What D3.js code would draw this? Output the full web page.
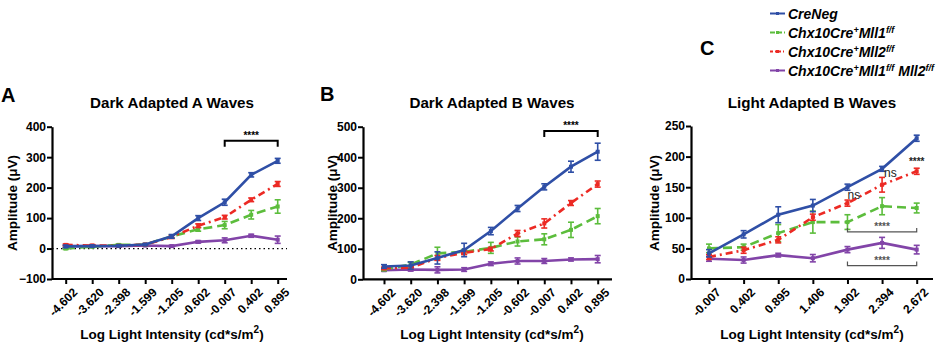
<!DOCTYPE html>
<html>
<head>
<meta charset="utf-8">
<script src="https://cdn.jsdelivr.net/npm/d3@7"></script>
<style>
  body { margin: 0; background: #fff; }
  svg text { font-family: "Liberation Sans", Arial, sans-serif; }
</style>
</head>
<body>
<div id="wrapper"></div>
<script>
// x categories (log light intensity)
const darkLabels = ["-4.602", "-3.620", "-2.398", "-1.599", "-1.205", "-0.602", "-0.007", "0.402", "0.895"];
const lightLabels = ["-0.007", "0.402", "0.895", "1.406", "1.902", "2.394", "2.672"];

// A: dark adapted a waves
const aCreNeg = [7, 8, 9, 13, 40, 100, 152, 242, 288];
const aCreNegErr = [4, 3, 3, 3, 6, 8, 10, 7, 8];
const aMll1 = [0, 6, 12, 13, 40, 63, 77, 111, 138];
const aMll1Err = [3, 3, 3, 3, 5, 6, 12, 14, 22];
const aMll2 = [12, 10, 9, 13, 38, 75, 103, 160, 212];
const aMll2Err = [3, 3, 3, 3, 5, 6, 6, 6, 8];
const aDko = [8, 8, 8, 10, 8, 22, 27, 42, 29];
const aDkoErr = [3, 3, 3, 3, 3, 4, 8, 5, 12];

// B: dark adapted b waves
const bCreNeg = [42, 45, 70, 96, 158, 232, 303, 369, 418];
const bCreNegErr = [6, 12, 20, 22, 12, 10, 10, 18, 28];
const bMll1 = [33, 48, 85, 90, 103, 124, 131, 162, 207];
const bMll1Err = [5, 8, 20, 8, 18, 15, 18, 25, 25];
const bMll2 = [36, 38, 70, 87, 99, 150, 183, 250, 312];
const bMll2Err = [4, 5, 8, 6, 6, 10, 15, 8, 10];
const bDko = [30, 32, 31, 32, 51, 60, 60, 65, 66];
const bDkoErr = [4, 5, 10, 6, 6, 10, 8, 5, 12];

// C: light adapted b waves
const cCreNeg = [42, 73, 105, 120, 150, 180, 230];
const cCreNegErr = [6, 6, 13, 10, 5, 4, 5];
const cMll1 = [50, 52, 75, 93, 93, 119, 116];
const cMll1Err = [7, 5, 14, 18, 12, 14, 8];
const cMll2 = [36, 47, 64, 101, 124, 154, 176];
const cMll2Err = [4, 5, 5, 5, 5, 12, 5];
const cDko = [33, 31, 39, 34, 48, 59, 48];
const cDkoErr = [4, 5, 3, 6, 5, 9, 7];

const colors = {creneg: "#2f4fa6", mll1: "#5cbd3c", mll2: "#ec2a24", dko: "#8244a8"};
const dashes = {creneg: null, mll1: "9,5", mll2: "7,4,2,4", dko: null};

const svg = d3.select("#wrapper").append("svg")
    .attr("width", 941)
    .attr("height", 347);

function drawPanel(p) {
    const g = svg.append("g");
    const x = d3.scalePoint().domain(p.labels).range([p.px0, p.px1]);
    const y = d3.scaleLinear().domain(p.yDomain).range([p.yBottom, p.yTop]);

    // zero dotted line
    if (p.zeroLine) {
        g.append("line")
            .attr("x1", p.x0).attr("x2", p.x1)
            .attr("y1", y(0)).attr("y2", y(0))
            .attr("stroke", "#000").attr("stroke-width", 1.3)
            .attr("stroke-dasharray", "1.5,3");
    }

    // series
    p.series.forEach(s => {
        const pts = s.values.map((v, i) => ({label: p.labels[i], v: v, e: s.err[i]}));
        const line = d3.line().x(d => x(d.label)).y(d => y(d.v));
        g.append("path")
            .attr("d", line(pts))
            .attr("fill", "none")
            .attr("stroke", colors[s.key])
            .attr("stroke-width", 2.6)
            .attr("stroke-dasharray", dashes[s.key]);
        const eb = g.append("g").attr("stroke", colors[s.key]).attr("stroke-width", 1.6);
        pts.forEach(d => {
            const cx = x(d.label);
            eb.append("line").attr("x1", cx).attr("x2", cx).attr("y1", y(d.v - d.e)).attr("y2", y(d.v + d.e));
            eb.append("line").attr("x1", cx - 3).attr("x2", cx + 3).attr("y1", y(d.v - d.e)).attr("y2", y(d.v - d.e));
            eb.append("line").attr("x1", cx - 3).attr("x2", cx + 3).attr("y1", y(d.v + d.e)).attr("y2", y(d.v + d.e));
        });
        g.append("g").selectAll("rect").data(pts).join("rect")
            .attr("x", d => x(d.label) - 2).attr("y", d => y(d.v) - 2)
            .attr("width", 4).attr("height", 4)
            .attr("fill", colors[s.key]);
    });

    // y axis
    const yAx = g.append("g")
        .attr("transform", `translate(${p.x0},0)`)
        .call(d3.axisLeft(y).tickValues(p.yTicks).tickSize(5).tickSizeOuter(0));
    yAx.select(".domain").attr("stroke-width", 2.2);
    yAx.selectAll(".tick line").attr("stroke-width", 2);
    yAx.selectAll("text").attr("font-size", 12).attr("font-weight", "bold")
        .attr("font-family", "Liberation Sans, Arial, sans-serif").attr("fill", "#000").attr("x", -6);

    // x axis
    const xAx = g.append("g")
        .attr("transform", `translate(0,${p.yBottom})`)
        .call(d3.axisBottom(x).tickSize(5).tickSizeOuter(0));
    xAx.select(".domain").attr("d", `M${p.x0},0H${p.x1}`).attr("stroke-width", 2.2);
    xAx.selectAll(".tick line").attr("stroke-width", 2);
    xAx.selectAll("text")
        .attr("font-size", 12).attr("font-weight", "bold")
        .attr("font-family", "Liberation Sans, Arial, sans-serif").attr("fill", "#000")
        .attr("text-anchor", "end")
        .attr("transform", "translate(6,8) rotate(-45)")
        .attr("dy", "0.7em").attr("y", 0).attr("x", 0);

    // titles
    g.append("text").attr("x", p.titleX).attr("y", 108)
        .attr("text-anchor", "middle").attr("font-size", 15.2).attr("font-weight", "bold")
        .text(p.title);
    g.append("text").attr("x", p.letterX).attr("y", p.letterY)
        .attr("font-size", 20).attr("font-weight", "bold").text(p.letter);
    g.append("text")
        .attr("transform", `translate(${p.yLabelX},203) rotate(-90)`)
        .attr("text-anchor", "middle").attr("dy", "0.35em")
        .attr("font-size", 13.5).attr("font-weight", "bold")
        .text("Amplitude (\u03bcV)");
    const xt = g.append("text").attr("x", p.titleX).attr("y", 339)
        .attr("text-anchor", "middle").attr("font-size", 13.5).attr("font-weight", "bold");
    xt.append("tspan").text("Log Light Intensity (cd*s/m");
    xt.append("tspan").attr("dy", -6).attr("font-size", 10).text("2");
    xt.append("tspan").attr("dy", 6).text(")");

    // significance brackets
    (p.brackets || []).forEach(b => {
        const bx0 = x(p.labels[b.from]), bx1 = x(p.labels[b.to]);
        const by = y(b.level);
        g.append("path")
            .attr("d", `M${bx0},${by + b.tick}V${by}H${bx1}V${by + b.tick}`)
            .attr("fill", "none").attr("stroke", b.color).attr("stroke-width", b.width);
        g.append("text").attr("x", (bx0 + bx1) / 2).attr("y", by - 2)
            .attr("text-anchor", "middle").attr("font-size", 10).attr("font-weight", "bold")
            .style("fill", b.color)
            .text(b.text);
    });
    (p.notes || []).forEach(n => {
        g.append("text").attr("x", x(p.labels[n.at]) + n.dx).attr("y", y(n.level))
            .attr("text-anchor", n.anchor).attr("font-size", n.size).attr("font-weight", n.weight)
            .style("fill", "#222")
            .text(n.text);
    });
}

drawPanel({
    labels: darkLabels, x0: 52, x1: 287, px0: 65.7, px1: 277.7,
    yDomain: [-100, 400], yTicks: [-100, 0, 100, 200, 300, 400], yTop: 126.7, yBottom: 279,
    zeroLine: true, title: "Dark Adapted A Waves", titleX: 172, letter: "A", letterX: 1, letterY: 102,
    yLabelX: 12,
    series: [
        {key: "dko", values: aDko, err: aDkoErr},
        {key: "mll1", values: aMll1, err: aMll1Err},
        {key: "mll2", values: aMll2, err: aMll2Err},
        {key: "creneg", values: aCreNeg, err: aCreNegErr}
    ],
    brackets: [{from: 6, to: 8, level: 354, tick: 6, color: "#000", width: 2, text: "****"}]
});

drawPanel({
    labels: darkLabels, x0: 363, x1: 612, px0: 384, px1: 597.7,
    yDomain: [0, 500], yTicks: [0, 100, 200, 300, 400, 500], yTop: 126.7, yBottom: 279.3,
    zeroLine: false, title: "Dark Adapted B Waves", titleX: 492, letter: "B", letterX: 320, letterY: 101,
    yLabelX: 332,
    series: [
        {key: "dko", values: bDko, err: bDkoErr},
        {key: "mll1", values: bMll1, err: bMll1Err},
        {key: "mll2", values: bMll2, err: bMll2Err},
        {key: "creneg", values: bCreNeg, err: bCreNegErr}
    ],
    brackets: [{from: 6, to: 8, level: 486, tick: 6, color: "#000", width: 2, text: "****"}]
});

drawPanel({
    labels: lightLabels, x0: 691, x1: 933, px0: 709, px1: 916.7,
    yDomain: [0, 250], yTicks: [0, 50, 100, 150, 200, 250], yTop: 126, yBottom: 279,
    zeroLine: false, title: "Light Adapted B Waves", titleX: 812, letter: "C", letterX: 700, letterY: 55,
    yLabelX: 654,
    series: [
        {key: "dko", values: cDko, err: cDkoErr},
        {key: "mll1", values: cMll1, err: cMll1Err},
        {key: "mll2", values: cMll2, err: cMll2Err},
        {key: "creneg", values: cCreNeg, err: cCreNegErr}
    ],
    brackets: [
        {from: 4, to: 6, level: 77, tick: -4, color: "#555", width: 1.2, text: "****"},
        {from: 4, to: 6, level: 22, tick: -4, color: "#555", width: 1.2, text: "****"}
    ],
    notes: [
        {at: 4, dx: 0, level: 130, text: "ns", size: 12, anchor: "start", weight: "normal"},
        {at: 5, dx: 2, level: 166, text: "ns", size: 12, anchor: "start", weight: "normal"},
        {at: 6, dx: 0, level: 186, text: "****", size: 10, anchor: "middle", weight: "bold"}
    ]
});

// legend
const legendKeys = ["creneg", "mll1", "mll2", "dko"];
const legendY = [13.5, 32.5, 51.5, 70.5];
const leg = svg.append("g");
legendKeys.forEach((k, i) => {
    const ly = legendY[i];
    leg.append("line").attr("x1", 770).attr("x2", 785).attr("y1", ly).attr("y2", ly)
        .attr("stroke", colors[k]).attr("stroke-width", 2)
        .attr("stroke-dasharray", k === "mll1" ? "5,2" : k === "mll2" ? "3,2,1,2" : null);
    leg.append("rect").attr("x", 776).attr("y", ly - 1.5).attr("width", 3).attr("height", 3).attr("fill", colors[k]);
});
function legendText(i, parts) {
    const t = leg.append("text").attr("x", 788).attr("y", legendY[i] + 5)
        .attr("font-size", 14).attr("font-weight", "bold").attr("font-style", "italic");
    let shifted = false;
    parts.forEach(pt => {
        const ts = t.append("tspan").text(pt.s);
        if (pt.sup && !shifted) { ts.attr("dy", -5).attr("font-size", 9); shifted = true; }
        else if (!pt.sup && shifted) { ts.attr("dy", 5); shifted = false; }
        else if (pt.sup) { ts.attr("font-size", 9); }
    });
}
legendText(0, [{s: "CreNeg"}]);
legendText(1, [{s: "Chx10Cre"}, {s: "+", sup: true}, {s: "Mll1"}, {s: "f/f", sup: true}]);
legendText(2, [{s: "Chx10Cre"}, {s: "+", sup: true}, {s: "Mll2"}, {s: "f/f", sup: true}]);
legendText(3, [{s: "Chx10Cre"}, {s: "+", sup: true}, {s: "Mll1"}, {s: "f/f", sup: true}, {s: " Mll2"}, {s: "f/f", sup: true}]);
</script>
</body>
</html>
